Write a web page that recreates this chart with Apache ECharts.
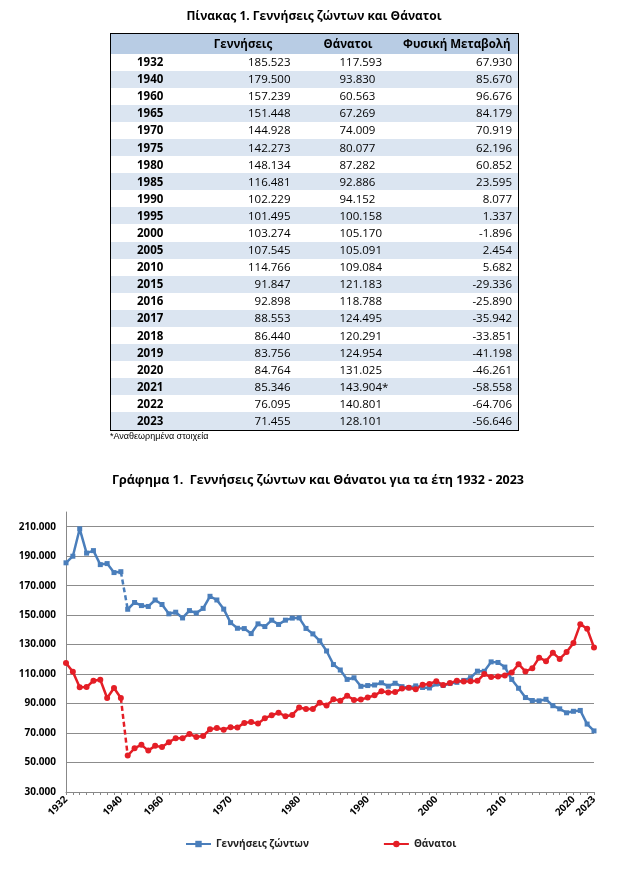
<!DOCTYPE html>
<html>
<head>
<meta charset="utf-8">
<script src="https://cdn.jsdelivr.net/npm/echarts@6/dist/echarts.min.js"></script>
<style>
html,body{margin:0;padding:0;background:#fff;width:623px;height:869px;overflow:hidden;}
#chart{position:absolute;left:0;top:0;width:623px;height:869px;}
#tbl{position:absolute;left:110px;top:33px;border-collapse:collapse;border:1px solid #000;
  font-family:"Open Sans","Noto Sans",sans-serif;font-size:11.5px;color:#000;table-layout:fixed;width:408px;z-index:2;}
#tbl td{padding:0;height:17.1px;line-height:16px;white-space:nowrap;}
#tbl tr.h td{height:19.5px;background:#B8CCE4;font-weight:bold;text-align:center;}
#tbl tr.b td{background:#DBE5F1;}
#tbl td.y{font-weight:bold;padding-left:26px;}
#tbl td.n2{text-align:right;padding-right:10px;}
#tbl td.n3{text-align:left;padding-left:39px;position:relative;}
#tbl td.n4{text-align:right;padding-right:6px;}
#note{position:absolute;left:110px;top:431px;font-family:"Liberation Sans",Arial,sans-serif;font-size:9px;color:#000;z-index:2;}
</style>
</head>
<body>
<div id="chart"></div>
<table id="tbl">
<colgroup><col style="width:75px"><col style="width:115px"><col style="width:95px"><col style="width:123px"></colgroup>
<tbody id="tbody"></tbody>
</table>
<div id="note">*Αναθεωρημένα στοιχεία</div>
<script>
// ---------- Table data ----------
const tableYears  = ['1932','1940','1960','1965','1970','1975','1980','1985','1990','1995','2000','2005','2010','2015','2016','2017','2018','2019','2020','2021','2022','2023'];
const tableBirths = ['185.523','179.500','157.239','151.448','144.928','142.273','148.134','116.481','102.229','101.495','103.274','107.545','114.766','91.847','92.898','88.553','86.440','83.756','84.764','85.346','76.095','71.455'];
const tableDeaths = ['117.593','93.830','60.563','67.269','74.009','80.077','87.282','92.886','94.152','100.158','105.170','105.091','109.084','121.183','118.788','124.495','120.291','124.954','131.025','143.904*','140.801','128.101'];
const tableChange = ['67.930','85.670','96.676','84.179','70.919','62.196','60.852','23.595','8.077','1.337','-1.896','2.454','5.682','-29.336','-25.890','-35.942','-33.851','-41.198','-46.261','-58.558','-64.706','-56.646'];
const tableHeaders = ['', 'Γεννήσεις', 'Θάνατοι', 'Φυσική Μεταβολή'];

// ---------- Chart data ----------
const categories = ['1932','1933','1934','1935','1936','1937','1938','1939','1940',
  '1955','1956','1957','1958','1959','1960','1961','1962','1963','1964','1965','1966','1967','1968','1969',
  '1970','1971','1972','1973','1974','1975','1976','1977','1978','1979','1980','1981','1982','1983','1984',
  '1985','1986','1987','1988','1989','1990','1991','1992','1993','1994','1995','1996','1997','1998','1999',
  '2000','2001','2002','2003','2004','2005','2006','2007','2008','2009','2010','2011','2012','2013','2014',
  '2015','2016','2017','2018','2019','2020','2021','2022','2023'];
const births = [185523,190000,208600,192100,193800,184300,185000,178900,179500,
  154000,158600,156500,155900,160300,157239,150900,152000,148100,153100,151448,154600,162800,160300,154100,
  144928,141100,140900,137500,144100,142273,146600,143700,146600,148000,148134,141000,137300,132600,125700,
  116481,112800,106400,107500,101700,102229,102600,104100,101800,103800,101495,100700,102000,100900,100600,
  103274,102300,103600,104400,105700,107545,112000,111900,118300,117900,114766,106400,100400,94100,92100,
  91847,92898,88553,86440,83756,84764,85346,76095,71455];
const deaths = [117593,111600,101000,101200,105500,106200,93800,100600,93830,
  54700,59700,62000,58100,61300,60563,63800,66500,66500,69400,67269,68000,72500,73500,72300,
  74009,73800,76900,77500,76400,80077,82000,83800,81400,82300,87282,86300,86300,90600,88700,
  92886,92000,95300,92500,92700,94152,95600,98300,97600,97800,100158,100800,99700,102700,103300,
  105170,102600,103900,105500,105000,105091,105500,110000,108000,108400,109084,111100,116700,111800,113900,
  121183,118788,124495,120291,124954,131025,143904,140801,128101];
const labelYears = ['1932','1940','1960','1970','1980','1990','2000','2010','2020','2023'];
const gapYear = '1940'; // last year before the break in the series
const seriesNames = ['Γεννήσεις ζώντων', 'Θάνατοι'];
const tableTitle = 'Πίνακας 1. Γεννήσεις ζώντων και Θάνατοι';
const chartTitle = 'Γράφημα 1.  Γεννήσεις ζώντων και Θάνατοι για τα έτη 1932 - 2023';

// ---------- Build table ----------
(function(){
  const tb = document.getElementById('tbody');
  let h = '<tr class="h">' + tableHeaders.map(t => '<td>' + t + '</td>').join('') + '</tr>';
  tableYears.forEach((y, i) => {
    const d = tableDeaths[i];
    const dHtml = d.endsWith('*') ? d.slice(0, -1) + '<span style="position:absolute">*</span>' : d;
    h += '<tr class="' + (i % 2 ? 'b' : 'w') + '"><td class="y">' + y + '</td><td class="n2">' + tableBirths[i] +
         '</td><td class="n3">' + dHtml + '</td><td class="n4">' + tableChange[i] + '</td></tr>';
  });
  tb.innerHTML = h;
})();

// ---------- Chart ----------
const BLUE = '#4A7EBB';
const RED = '#E41E26';
const FONT = '"Open Sans", "Noto Sans", sans-serif';
const gi = categories.indexOf(gapYear);
const part = (arr, a, b) => arr.map((v, i) => (i >= a && i <= b) ? v : null);
const fmt = v => String(v).replace(/\B(?=(\d{3})+(?!\d))/g, '.');

function lineSeries(name, data, color, symbol, size, dashed) {
  return {
    name: name, type: 'line', data: data,
    symbol: dashed ? 'none' : symbol, symbolSize: size, showSymbol: !dashed, showAllSymbol: true,
    connectNulls: false, animation: false,
    itemStyle: { color: color },
    lineStyle: { color: color, width: 2.5, type: dashed ? [5, 3] : 'solid' },
    emphasis: { disabled: true }
  };
}

const chart = echarts.init(document.getElementById('chart'), null, { renderer: 'canvas' });
chart.setOption({
  animation: false,
  backgroundColor: 'transparent',
  graphic: [
    { type: 'text', x: 314, y: 17, style: { text: tableTitle, align: 'center', verticalAlign: 'middle',
      font: 'bold 12px ' + FONT, fill: '#000' } },
    { type: 'text', x: 318, y: 480, style: { text: chartTitle, align: 'center', verticalAlign: 'middle',
      font: 'bold 12.5px ' + FONT, fill: '#000' } }
  ],
  grid: { left: 66, right: 29, top: 512, bottom: 77, containLabel: false, outerBoundsMode: 'none' },
  legend: {
    data: seriesNames, left: 180, top: 834, itemGap: 74, itemWidth: 25, itemHeight: 8,
    textStyle: { fontFamily: FONT, fontSize: 10, fontWeight: 'bold', color: '#222' },
    selectedMode: false
  },
  xAxis: {
    type: 'category', data: categories, boundaryGap: false,
    axisLine: { lineStyle: { color: '#888', width: 1 } },
    axisTick: { show: true, interval: 0, length: 3, lineStyle: { color: '#888' } },
    axisLabel: {
      interval: (idx, val) => labelYears.includes(val), rotate: 45, margin: 6,
      fontFamily: FONT, fontSize: 10, fontWeight: 'bold', color: '#000'
    },
    splitLine: { show: false }
  },
  yAxis: {
    type: 'value', min: 30000, max: 220000, interval: 20000,
    axisLine: { show: true, lineStyle: { color: '#888', width: 1 } },
    axisTick: { show: false },
    axisLabel: { formatter: fmt, showMaxLabel: false, margin: 10,
      fontFamily: FONT, fontSize: 10, fontWeight: 'bold', color: '#000' },
    splitLine: { show: true, showMaxLine: false, lineStyle: { color: '#8c8c8c', width: 1 } }
  },
  series: [
    lineSeries(seriesNames[0], part(births, 0, gi), BLUE, 'rect', 5, false),
    lineSeries(seriesNames[0], part(births, gi + 1, births.length - 1), BLUE, 'rect', 5, false),
    lineSeries('births-gap', part(births, gi, gi + 1), BLUE, 'none', 0, true),
    lineSeries(seriesNames[1], part(deaths, 0, gi), RED, 'circle', 6, false),
    lineSeries(seriesNames[1], part(deaths, gi + 1, deaths.length - 1), RED, 'circle', 6, false),
    lineSeries('deaths-gap', part(deaths, gi, gi + 1), RED, 'none', 0, true)
  ]
});
</script>
</body>
</html>
